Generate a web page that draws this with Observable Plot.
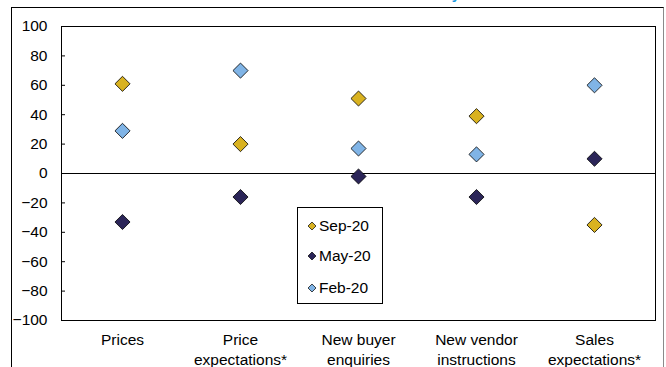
<!DOCTYPE html>
<html>
<head>
<meta charset="utf-8">
<script src="https://cdn.jsdelivr.net/npm/d3@7"></script>
<script src="https://cdn.jsdelivr.net/npm/@observablehq/plot@0.6"></script>
<style>
  html, body { margin: 0; padding: 0; background: #fff; }
  #wrap { position: relative; width: 666px; height: 367px; overflow: hidden; font-family: "Liberation Sans", Arial, sans-serif; }
  #title { position: absolute; right: 206px; top: -13.7px; font-size: 15px; line-height: 15px; font-weight: bold; color: #1E9BE0; white-space: nowrap; }
  #outer { position: absolute; left: 11px; top: 7px; width: 651px; height: 400px; border-top: 1px solid #000; border-left: 1px solid #000; border-right: 1.5px solid #8a8a8a; }
  #chart { position: absolute; left: 0; top: 0; }
  #legend { position: absolute; left: 297px; top: 207px; width: 84px; height: 95px; border: 1px solid #000; background: #fff; font-size: 15.5px; }
  .item { position: absolute; left: 9px; height: 20px; line-height: 20px; display: flex; align-items: center; white-space: nowrap; }
  .item svg { margin-right: 2px; }
</style>
</head>
<body>
<div id="wrap">
  <div id="title">RICS residential market survey</div>
  <div id="outer"></div>
  <div id="chart"></div>
  <div id="legend"></div>
</div>
<script>
// Survey categories and their two-line axis labels
const categories = ["Prices", "Price expectations*", "New buyer enquiries", "New vendor instructions", "Sales expectations*"];
const tickLabels = ["Prices", "Price\nexpectations*", "New buyer\nenquiries", "New vendor\ninstructions", "Sales\nexpectations*"];

// Survey months (legend order) and net balances per category
const series = ["Sep-20", "May-20", "Feb-20"];
const sep20 = [61, 20, 51, 39, -35];
const may20 = [-33, -16, -2, -16, 10];
const feb20 = [29, 70, 17, 13, 60];

const yTicks = [-100, -80, -60, -40, -20, 0, 20, 40, 60, 80, 100];
const colors = ["#D9B220", "#2B2558", "#80B4E6"];

const valuesBySeries = [sep20, may20, feb20];
const rows = [];
series.forEach((s, si) => {
  categories.forEach((c, ci) => rows.push({series: s, category: c, value: valuesBySeries[si][ci]}));
});

const W = 666, H = 367, mL = 61, mR = 11, mT = 26, mB = 47;

const chart = Plot.plot({
  width: W,
  height: H,
  marginLeft: mL,
  marginRight: mR,
  marginTop: mT,
  marginBottom: mB,
  style: {fontFamily: "'Liberation Sans', Arial, sans-serif", fontSize: "15.5px", color: "#000", background: "transparent", overflow: "visible"},
  // each category sits in the centre of an equal-width slot
  x: {type: "point", domain: categories, padding: 0.5, axis: null, label: null},
  y: {domain: [-100, 100], axis: null, label: null},
  color: {domain: series, range: colors},
  marks: [
    Plot.frame({stroke: "#000"}),
    Plot.ruleY([0], {stroke: "#000"}),
    // short inward tick marks on the left edge
    Plot.ruleY(yTicks, {stroke: "#000", insetRight: W - mL - mR - 4}),
    Plot.axisY(yTicks, {tickSize: 0, tickPadding: 14, fontSize: 15.5, fill: "#000"}),
    Plot.axisX({tickSize: 0, tickPadding: 11, fontSize: 15.5, fill: "#000", lineHeight: 1.25,
      tickFormat: d => tickLabels[categories.indexOf(d)]}),
    Plot.dot(rows, {x: "category", y: "value", fill: "series", symbol: "diamond2", r: 6.8, stroke: "#000", strokeWidth: 0.8})
  ]
});
document.getElementById("chart").appendChild(chart);

// Legend box
const legend = document.getElementById("legend");
const rowTops = [8, 38, 70];
series.forEach((s, i) => {
  const item = document.createElement("div");
  item.className = "item";
  item.style.top = rowTops[i] + "px";
  item.innerHTML = `<svg width="10" height="10" viewBox="-5 -5 10 10"><path d="M0,-4L4,0L0,4L-4,0Z" fill="${colors[i]}" stroke="#000" stroke-width="0.7"/></svg><span>${s}</span>`;
  legend.appendChild(item);
});
</script>
</body>
</html>
